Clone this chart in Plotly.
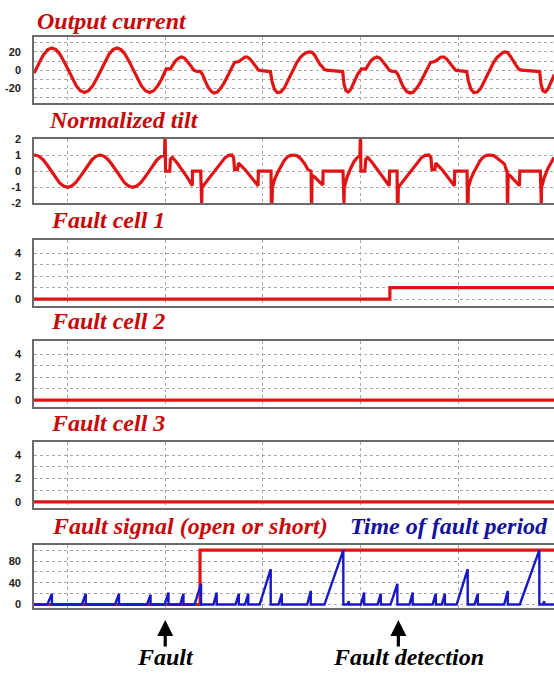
import plotly.graph_objects as go

# ---------------- data ----------------
# time axis in ms
cur_t = [19.7, 20.2, 21.45, 22.7, 23.95, 25.2, 26.45, 27.7, 28.95, 30.2, 31.45, 32.7, 33.95, 35.2,
         36.45, 37.7, 38.95, 40.2, 41.45, 42.7, 43.95, 45.2, 46.45, 47.7, 48.95, 50.2, 51.45, 52.7,
         53.95, 55.2, 56.45, 57.7, 58.95, 60.0, 60.3, 61.6, 62.2, 63.0, 64.0, 65.0, 66.0, 67.0, 68.0,
         68.8, 69.5, 70.8, 71.5, 72.3, 73.2, 74.2, 75.0, 76.0, 77.0, 78.0, 79.0, 80.0, 80.6, 81.3,
         82.6, 83.5, 84.5, 85.2, 86.0, 87.0, 88.0, 88.7, 89.5, 92.3, 92.8, 93.5, 94.4, 95.5, 96.5,
         97.5, 98.5, 99.5, 100.5, 101.5, 102.5, 103.5, 104.3, 105.2, 106.0, 106.8, 107.5, 108.2,
         108.8, 109.5, 114.5, 114.9, 115.5, 116.2, 117.0, 118.0, 119.0, 120.0, 120.3, 121.6, 122.2,
         123.0, 124.0, 125.0, 126.0, 127.0, 128.0, 128.8, 129.5, 130.8, 131.5, 132.3, 133.2, 134.2,
         135.2, 136.2, 137.2, 138.2, 139.2, 140.2, 140.8, 141.5, 142.8, 143.7, 144.7, 145.6, 146.4,
         147.4, 148.4, 149.2, 150.0, 152.6, 153.1, 153.9, 154.8, 155.9, 156.9, 157.9, 158.9, 159.9,
         160.9, 161.9, 162.9, 163.7, 164.3, 165.1, 165.9, 166.7, 167.4, 168.0, 168.6, 169.3, 175.0,
         175.4, 176.0, 176.7, 177.5, 178.5, 179.5]
cur_v = [-3.0, 0, 9.4, 17.3, 22.6, 24.5, 22.6, 17.3, 9.4, 0, -9.4, -17.3, -22.6, -24.5,
         -22.6, -17.3, -9.4, 0, 9.4, 17.3, 22.6, 24.5, 22.6, 17.3, 9.4, 0, -9.4, -17.3,
         -22.6, -24.5, -22.6, -17.3, -9.4, 0, 1.5, 1.5, 5, 9.5, 13, 14.5, 13, 9, 4,
         0, -1, -1.5, -5, -12, -19, -23.5, -25, -24, -20, -14.5, -7.5, -0.5, 5, 8.6,
         9.5, 12, 14.5, 14.5, 12.5, 8, 3, 0, -0.5, -1.5, -12, -21, -24.5, -24, -20,
         -13, -6, 2, 9, 14, 17.5, 19.5, 20, 19.5, 16, 11, 6.5, 4,
         1, 0, -1.5, -15, -22.5, -24, -21, -13, -5, 0, 1.5, 1.5, 5,
         9.5, 13, 14.5, 13, 9, 4, 0, -1, -1.5, -5, -12, -19, -23.5,
         -25, -24, -20, -14.5, -7.5, -0.5, 5, 8.6, 9.5, 12, 14.5, 14.5, 12.5,
         8, 3, 0, -0.5, -1.5, -12, -21, -24.5, -24, -20, -13, -6, 2,
         9, 14, 17.5, 19.5, 20, 19.5, 16, 11, 6.5, 4, 1, 0, -1.5,
         -15, -22.5, -24, -21, -13, -5]

tilt_t = [19.7, 20.0, 21.25, 22.5, 23.75, 25.0, 26.25, 27.5, 28.75, 30.0, 31.25, 32.5, 33.75, 35.0,
          36.25, 37.5, 38.75, 40.0, 41.25, 42.5, 43.75, 45.0, 46.25, 47.5, 48.75, 50.0, 51.25, 52.5,
          53.75, 55.0, 56.25, 57.5, 58.75, 59.8, 59.9, 60.0, 60.1, 61.4, 61.6, 62.2, 63.5, 65.0, 66.5,
          68.3, 68.4, 70.9, 71.0, 71.2, 71.3, 72.5, 73.75, 75.2, 76.8, 78.4, 79.5, 80.5, 81.0, 81.3,
          82.2, 82.5, 84.5, 86.5, 88.5, 88.6, 92.5, 92.6, 92.8, 92.9, 93.6, 94.5, 95.5, 96.5, 97.5,
          98.5, 99.5, 100.5, 101.5, 102.9, 103.8, 104.8, 104.9, 105.0, 105.1, 105.8, 108.4, 108.5,
          114.6, 114.7, 114.9, 115.0, 115.8, 117.0, 118.0, 119.0, 119.8, 119.9, 120.0, 120.1, 121.3,
          121.6, 122.2, 123.5, 125.0, 126.5, 128.8, 128.9, 131.2, 131.3, 131.5, 131.6, 132.8, 134.0,
          135.5, 137.1, 138.7, 139.8, 141.0, 141.6, 141.9, 142.8, 143.1, 145.0, 147.0, 148.8, 148.9,
          152.7, 152.8, 153.0, 153.1, 153.8, 154.7, 155.7, 156.7, 157.7, 158.7, 160.0, 161.0, 162.0,
          164.2, 164.8, 165.0, 165.1, 165.2, 165.3, 166.0, 168.8, 168.9, 175.2, 175.3, 175.5, 175.6,
          176.4, 177.6, 178.6, 179.4]
tilt_v = [1.0, 1.0, 0.92, 0.71, 0.38, 0, -0.38, -0.71, -0.92, -1, -0.92, -0.71, -0.38, 0,
          0.38, 0.71, 0.92, 1, 0.92, 0.71, 0.38, 0, -0.38, -0.71, -0.92, -1, -0.92, -0.71,
          -0.38, 0, 0.38, 0.71, 0.92, 0.98, 2.0, 2.0, 0, 0, 0.75, 0.85, 0.55, 0.15, -0.3,
          -0.9, 0, 0, -2, -2, -1, -0.7, -0.36, 0.05, 0.44, 0.84, 0.98, 1.0, 0.85, 0.1,
          0.1, 0.5, 0.1, -0.4, -0.9, 0, 0, -2, -2, -1, -0.5, -0.1, 0.3, 0.65, 0.88,
          0.98, 1.0, 0.95, 0.8, 0.44, 0.1, 0.0, -2, -2, -0.25, -0.35, -0.86, 0,
          0, -2, -2, -1, -0.4, 0.2, 0.6, 0.85, 0.95, 2, 2, 0, 0,
          0.75, 0.85, 0.55, 0.15, -0.3, -0.9, 0, 0, -2, -2, -1, -0.7, -0.36,
          0.05, 0.44, 0.84, 0.98, 1.0, 0.85, 0.1, 0.1, 0.5, 0.1, -0.4, -0.9, 0,
          0, -2, -2, -1, -0.5, -0.1, 0.3, 0.65, 0.88, 0.98, 1.0, 0.95, 0.8,
          0.44, 0.05, 0, -2, -2, -0.2, -0.3, -0.9, 0, 0, -2, -2, -1,
          -0.4, 0.2, 0.6, 0.85]

cell1_t = [19.7, 129.0, 129.0, 179.4]
cell1_v = [0, 0, 1, 1]
cell2_t = [19.7, 179.4]
cell2_v = [0, 0]
cell3_t = [19.7, 179.4]
cell3_v = [0, 0]

fsig_t = [19.7, 70.7, 70.7, 179.4]
fsig_v = [0, 0, 100, 100]

# time-of-fault-period ramps: start time, peak time, peak value
ramp_start = [23.8, 34.4, 44.6, 54.4, 59.8, 64.6, 69.0, 74.8, 81.6, 84.5, 89.0, 94.8, 103.6,
              108.9, 116.0, 120.1, 125.2, 129.2, 135.0, 142.1, 144.9, 149.5, 155.0, 164.1,
              168.9, 176.0]
ramp_peak_t = [25.2, 35.6, 45.8, 55.5, 61.0, 65.6, 71.0, 75.8, 82.6, 85.5, 92.4, 95.8, 104.7,
               114.7, 116.4, 121.1, 126.2, 131.3, 136.0, 143.1, 145.9, 152.9, 156.0, 165.2,
               174.9, 176.4]
ramp_peak = [20, 20, 20, 18, 22, 20, 38, 22, 20, 20, 65, 20, 25,
             100, 6, 22, 20, 38, 22, 20, 20, 65, 20, 25, 100, 6]

titles = ["Output current", "Normalized tilt", "Fault cell 1", "Fault cell 2", "Fault cell 3",
          "Fault signal (open or short)"]
title2 = "Time of fault period"
fault_t = 60.0
detect_t = 131.6

# ---------------- figure ----------------
W, H = 554, 678
RED = "#e01414"
TRED = "#c80808"
BLUE = "#1818c8"
TBLUE = "#12129a"

tops = [32, 135.3, 238.3, 341, 444, 549]
bots = [98.7, 201, 305, 408, 511.5, 613.3]
yranges = [[-36, 36], [-2, 2], [-0.57, 5.14], [-0.57, 5.14], [-0.57, 5.14], [-7.2, 108.9]]
grid_vals = [[-30, -20, -10, 0, 10, 20, 30], [-2, -1, 0, 1, 2], [0, 1, 2, 3, 4], [0, 1, 2, 3, 4],
             [0, 1, 2, 3, 4], [0, 20, 40, 60, 80, 100]]
grid_text = [["", "-20", "", "0", "", "20", ""], ["-2", "-1", "0", "1", "2"],
             ["0", "", "2", "", "4"], ["0", "", "2", "", "4"], ["0", "", "2", "", "4"],
             ["0", "", "40", "", "80", ""]]

XL = 34
xrange_ = [19.7, 179.4]

# blue ramp series
blue_t = [19.7]
blue_v = [0]
for s, pt, pv in zip(ramp_start, ramp_peak_t, ramp_peak):
    blue_t += [s, pt, pt]
    blue_v += [0, pv, 0]
blue_t.append(179.4)
blue_v.append(0)

fig = go.Figure()
series = [(cur_t, cur_v), (tilt_t, tilt_v), (cell1_t, cell1_v), (cell2_t, cell2_v),
          (cell3_t, cell3_v), (fsig_t, fsig_v)]
for i, (tx, vy) in enumerate(series):
    n = "" if i == 0 else str(i + 1)
    fig.add_trace(go.Scatter(x=tx, y=vy, mode="lines", xaxis="x" + n, yaxis="y" + n,
                             line=dict(color=RED, width=3.2), hoverinfo="skip", showlegend=False))
fig.add_trace(go.Scatter(x=blue_t, y=blue_v, mode="lines", xaxis="x6", yaxis="y6",
                         line=dict(color=BLUE, width=2.4), hoverinfo="skip", showlegend=False))

layout = dict(width=W, height=H, margin=dict(l=0, r=0, t=0, b=0), paper_bgcolor="white",
              plot_bgcolor="white", showlegend=False)
for i in range(6):
    n = "" if i == 0 else str(i + 1)
    dom = [1 - bots[i] / H, 1 - tops[i] / H]
    layout["xaxis" + n] = dict(domain=[XL / W, 1], range=xrange_, anchor="y" + n,
                               tickvals=[30, 60, 90, 120, 150], showticklabels=False, ticks="",
                               showgrid=True, gridcolor="#a8a8a8", griddash="dot", gridwidth=1,
                               showline=True, mirror=True, linecolor="#6a6a6a", linewidth=1.6,
                               zeroline=False, fixedrange=True)
    layout["yaxis" + n] = dict(domain=dom, range=yranges[i], anchor="x" + n,
                               tickvals=grid_vals[i], ticktext=grid_text[i], ticks="",
                               ticklabelstandoff=9,
                               tickfont=dict(family="Liberation Sans", size=11, color="#222222",
                                             weight="bold"),
                               showgrid=True, gridcolor="#a8a8a8",
                               griddash="3px,3px" if i == 1 else "dot", gridwidth=1,
                               showline=True, mirror=False, linecolor="#6a6a6a", linewidth=1.6,
                               zeroline=False, fixedrange=True)
fig.update_layout(**layout)

TS = 24
title_x = [35, 47, 49, 49, 49, 50]
title_y = [15, 116, 218, 321, 425, 529]
ann = []
for i, t in enumerate(titles):
    ann.append(dict(text="<b><i>" + t + "</i></b>", xref="paper", yref="paper",
                    x=title_x[i] / W, y=1 - title_y[i] / H, xanchor="left", yanchor="middle",
                    showarrow=False,
                    font=dict(family="Liberation Serif", size=TS, color=TRED)))
ann.append(dict(text="<b><i>" + title2 + "</i></b>", xref="paper", yref="paper",
                x=348 / W, y=1 - 529 / H, xanchor="left", yanchor="middle", showarrow=False,
                font=dict(family="Liberation Serif", size=TS, color=TBLUE)))
for tx in [fault_t, detect_t]:
    ann.append(dict(text="", xref="x6", yref="paper", x=tx, y=1 - 625 / H, ax=0, ay=28,
                    showarrow=True, arrowhead=2, arrowsize=1, arrowwidth=3.2, arrowcolor="black"))
ann.append(dict(text="<b><i>Fault</i></b>", xref="x6", yref="paper", x=fault_t, y=1 - 663 / H,
                xanchor="center", yanchor="middle", showarrow=False,
                font=dict(family="Liberation Serif", size=TS, color="black")))
ann.append(dict(text="<b><i>Fault detection</i></b>", xref="paper", yref="paper", x=408 / W,
                y=1 - 663 / H, xanchor="center", yanchor="middle", showarrow=False,
                font=dict(family="Liberation Serif", size=TS, color="black")))
fig.update_layout(annotations=ann)

fig.write_html("out.html")
